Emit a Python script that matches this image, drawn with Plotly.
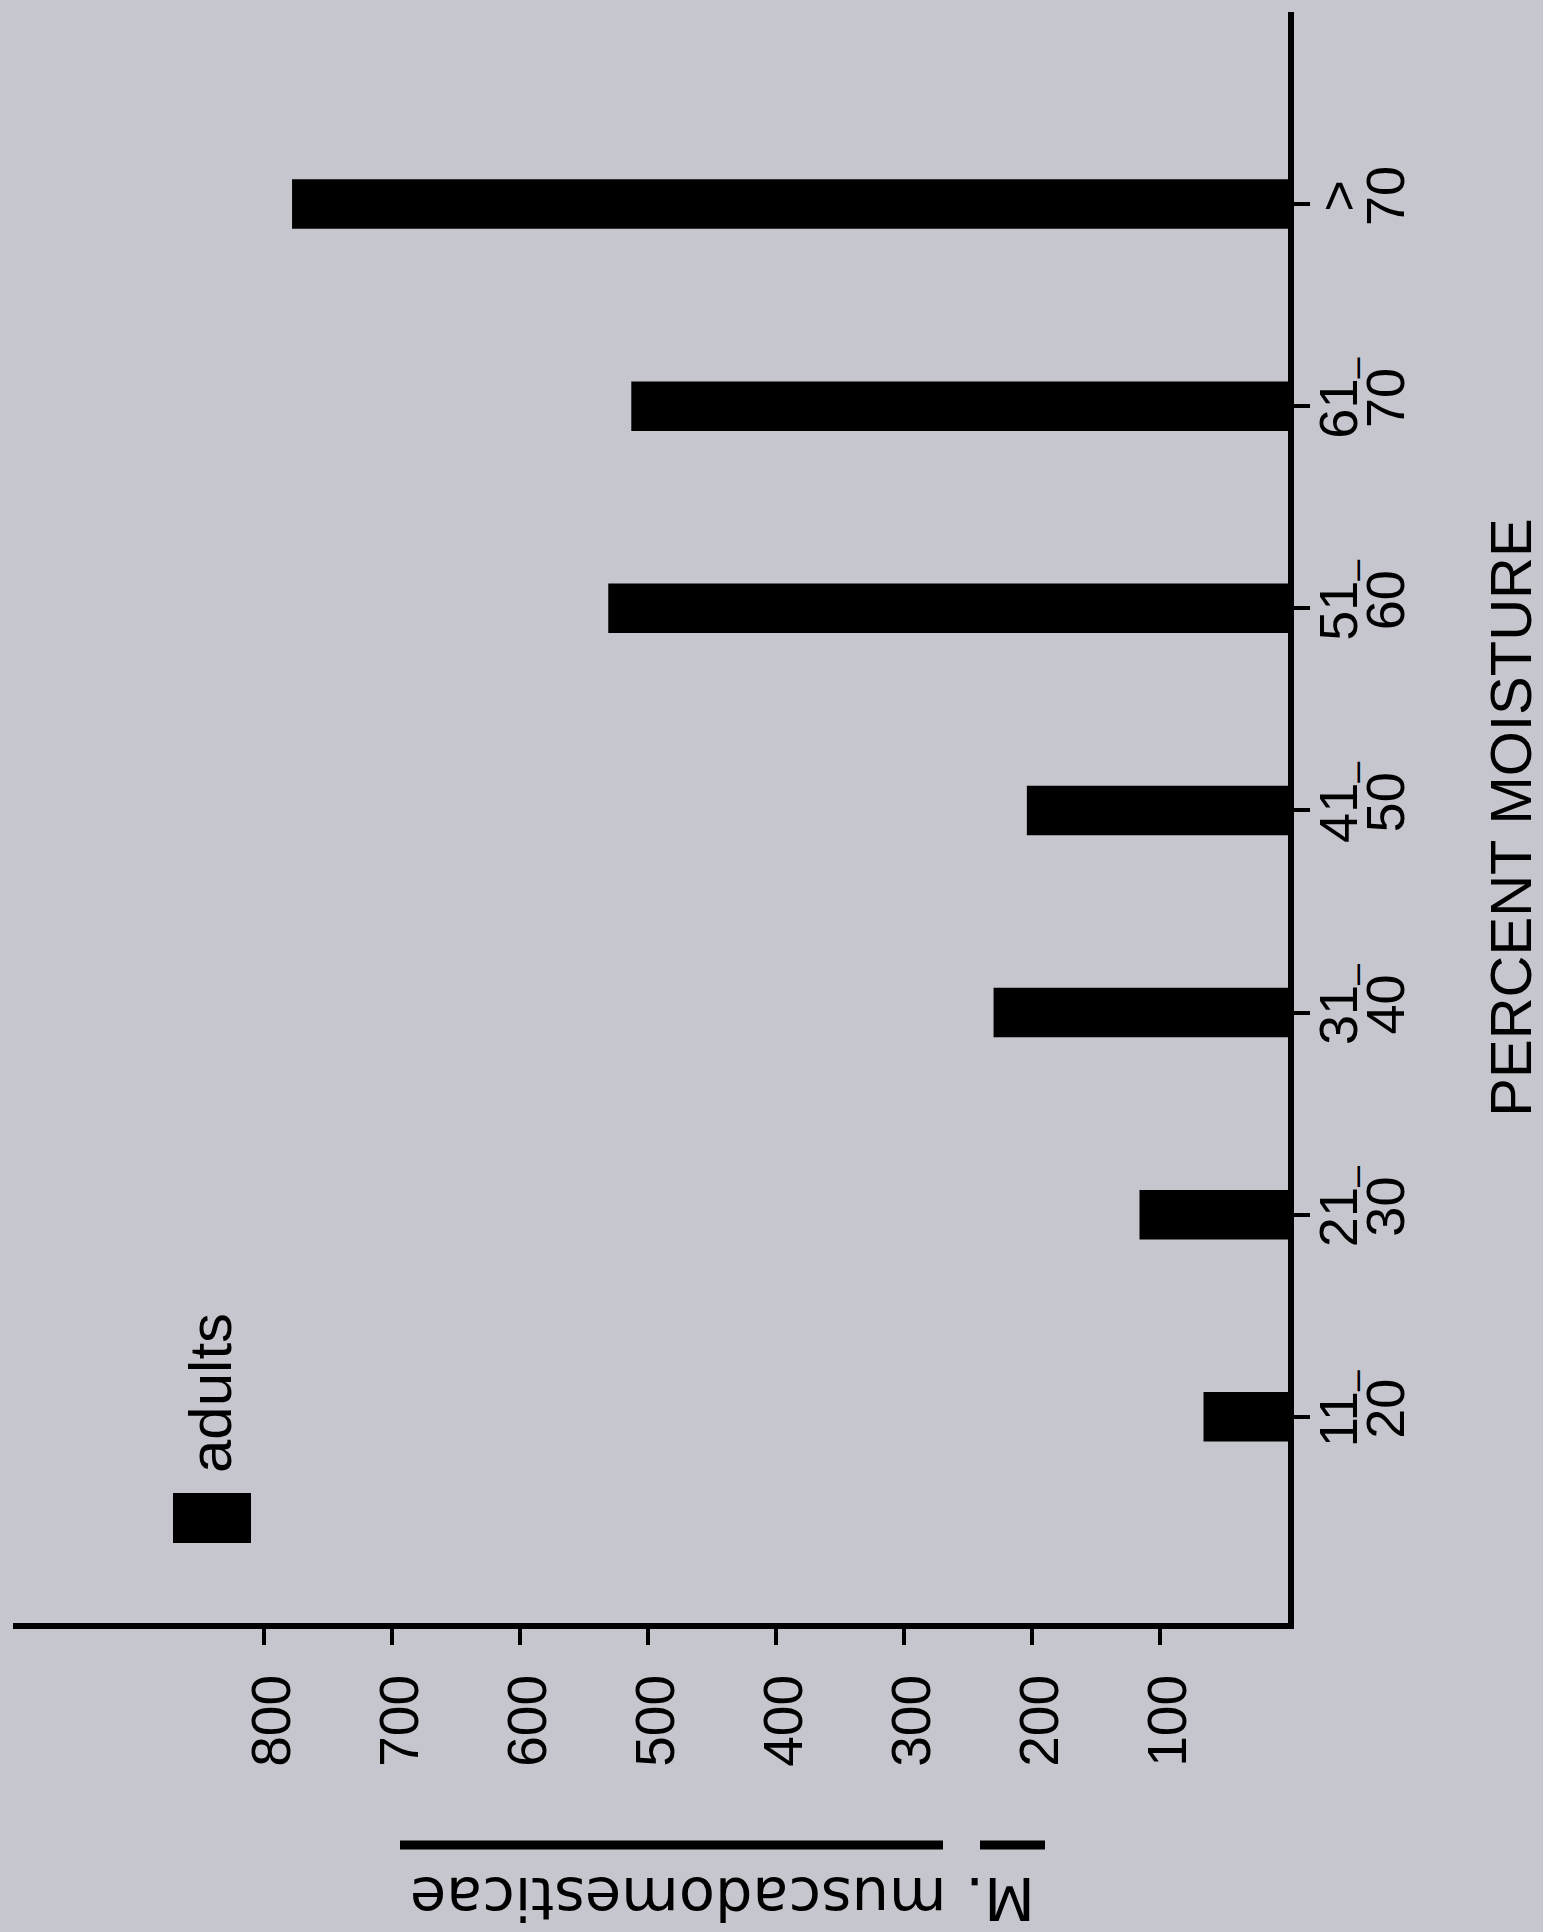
import plotly.graph_objects as go

categories = ["11-20", "21-30", "31-40", "41-50", "51-60", "61-70", ">70"]
label_line1 = ["11<sub>–</sub>", "21<sub>–</sub>", "31<sub>–</sub>", "41<sub>–</sub>",
               "51<sub>–</sub>", "61<sub>–</sub>", ">"]
label_line2 = ["20", "30", "40", "50", "60", "70", "70"]
adults = [66, 116, 230, 204, 531, 513, 778]
value_ticks = [100, 200, 300, 400, 500, 600, 700, 800]
value_labels = ["100", "200", "300", "400", "500", "600", "700", "800"]

W, H = 1543, 1932
L, R, T, B = 13, 1288, 12, 1623  # plot-area pixel edges

def px(x):
    return (x - L) / (R - L)

def py(y):
    return (B - y) / (B - T)

FONT = "Liberation Sans, Arial, sans-serif"
bg = "#c6c6ce"
YRANGE = [-1.02, 6.95]

fig = go.Figure()
fig.add_trace(go.Bar(
    y=categories, x=adults, orientation="h", width=0.245,
    marker=dict(color="black", line=dict(width=0)),
    showlegend=False, hoverinfo="x+y",
))
# invisible companion trace so the second-line label axis is drawn
fig.add_trace(go.Scatter(
    y=list(range(len(categories))), x=adults, yaxis="y2", mode="markers",
    marker=dict(opacity=0), showlegend=False, hoverinfo="skip",
))

fig.update_layout(
    width=W, height=H,
    margin=dict(l=L, r=W - R, t=T, b=H - B, autoexpand=False),
    paper_bgcolor=bg, plot_bgcolor=bg,
    font=dict(family=FONT, color="black", size=50),
    xaxis=dict(
        range=[996, 0], showgrid=False, zeroline=False, automargin=False,
        showline=True, linecolor="black", linewidth=6,
        tickmode="array", tickvals=value_ticks, ticktext=value_labels,
        ticks="outside", ticklen=16, tickwidth=4, tickcolor="black",
        tickangle=-90, ticklabelstandoff=8, ticklabelshift=-8,
        tickfont=dict(size=55),
    ),
    yaxis=dict(
        type="category", range=YRANGE, side="right", automargin=False,
        showgrid=False, zeroline=False,
        showline=True, linecolor="black", linewidth=6,
        tickmode="array", tickvals=categories, ticktext=label_line1,
        ticks="outside", ticklen=16, tickwidth=4, tickcolor="black",
        tickangle=-90, ticklabelstandoff=-18,
        tickfont=dict(size=54),
        title=dict(text="PERCENT MOISTURE", font=dict(size=58), standoff=120),
    ),
    yaxis2=dict(
        overlaying="y", side="right", range=YRANGE, automargin=False,
        showgrid=False, zeroline=False, showline=False, ticks="",
        tickmode="array", tickvals=list(range(len(categories))), ticktext=label_line2,
        tickangle=-90, ticklabelstandoff=61,
        tickfont=dict(size=54),
    ),
)

# upside-down value-axis title (scan was rotated)
fig.add_annotation(
    text="M. muscadomesticae", textangle=180,
    xref="paper", yref="paper", x=px(723), y=py(1899),
    xanchor="center", yanchor="middle",
    showarrow=False, font=dict(family="DejaVu Sans, sans-serif", size=59),
)
# underline of the (rotated) title
fig.add_shape(type="line", xref="paper", yref="paper",
              x0=px(400), x1=px(943), y0=py(1845), y1=py(1845),
              line=dict(color="black", width=9))
fig.add_shape(type="line", xref="paper", yref="paper",
              x0=px(980), x1=px(1045), y0=py(1845), y1=py(1845),
              line=dict(color="black", width=9))

# legend key
fig.add_shape(type="rect", xref="paper", yref="paper",
              x0=px(173), x1=px(251), y0=py(1543), y1=py(1493),
              fillcolor="black", line=dict(width=0))
fig.add_annotation(
    text="adults", textangle=-90,
    xref="paper", yref="paper", x=px(210), y=py(1393),
    xanchor="center", yanchor="middle",
    showarrow=False, font=dict(size=60),
)

fig.write_html("out.html")
